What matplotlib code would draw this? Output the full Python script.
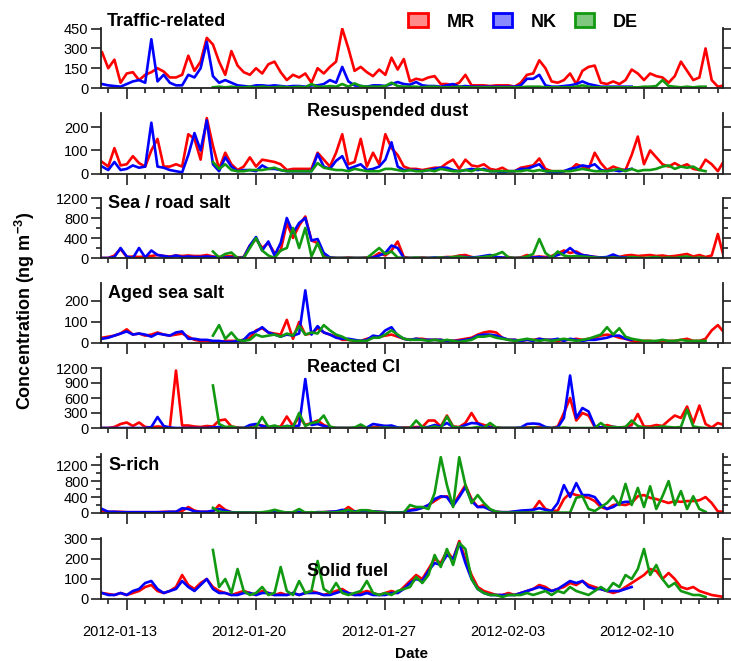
import numpy as np
import matplotlib
matplotlib.use('Agg')
import matplotlib.pyplot as plt
import matplotlib.dates as mdates
from matplotlib.patches import Patch
from matplotlib.ticker import FixedLocator, MultipleLocator
from matplotlib.transforms import ScaledTranslation

plt.rcParams['font.family'] = ['Liberation Sans', 'DejaVu Sans']
plt.rcParams['mathtext.fontset'] = 'custom'
plt.rcParams['mathtext.rm'] = 'Liberation Sans'
plt.rcParams['mathtext.bf'] = 'Liberation Sans:bold'

# ---------------- data (8-hourly samples) ----------------
start = np.datetime64('2012-01-11T16:00')
step = np.timedelta64(8, 'h')
de_offset = 18  # DE series starts 18 samples later

sites = ['MR', 'NK', 'DE']
tick_dates = ['2012-01-13', '2012-01-20', '2012-01-27', '2012-02-03', '2012-02-10']

traffic_mr = [270, 150, 215, 40, 110, 120, 60, 100, 120, 150,
              125, 80, 80, 100, 245, 130, 200, 380, 330, 200,
              100, 280, 170, 120, 100, 150, 110, 180, 200, 120,
              60, 100, 80, 110, 40, 150, 110, 160, 200, 450,
              300, 130, 160, 120, 90, 140, 100, 230, 140, 220,
              50, 70, 60, 80, 90, 30, 30, 20, 40, 100,
              20, 20, 20, 15, 20, 20, 20, 10, 40, 100,
              110, 210, 150, 50, 40, 60, 110, 30, 130, 160,
              170, 40, 30, 50, 30, 60, 140, 110, 60, 110,
              90, 80, 40, 90, 200, 130, 60, 80, 300, 60,
              10, 20]
traffic_nk = [30, 20, 15, 10, 30, 50, 60, 40, 370, 50,
              100, 40, 20, 20, 100, 80, 150, 350, 90, 40,
              60, 40, 20, 15, 10, 20, 20, 15, 20, 15,
              10, 15, 15, 10, 20, 20, 30, 60, 40, 160,
              50, 20, 15, 10, 20, 20, 15, 30, 45, 30,
              25, 45, 20, 15, 15, 10, 20, 30, 10, 15,
              10, 10, 10, 10, 10, 10, 10, 10, 20, 70,
              70, 100, 20, 10, 10, 15, 20, 30, 50, 30,
              20, 10, 10, 10, 10, 10, 10]
traffic_de = [5, 10, 5, 10, 5, 5, 10, 5, 10, 5,
              5, 10, 5, 5, 10, 5, 30, 10, 10, 15,
              10, 30, 10, 35, 15, 10, 10, 10, 15, 40,
              15, 10, 10, 10, 5, 10, 10, 5, 5, 5,
              10, 5, 5, 5, 5, 5, 5, 5, 5, 5,
              5, 10, 10, 10, 5, 5, 5, 5, 5, 10,
              20, 10, 5, 5, 5, 5, 5, 5, 5, 5,
              10, 10, 15, 60, 15, 10, 5, 10, 5, 10, 10]

dust_mr = [50, 30, 110, 35, 40, 75, 45, 30, 100, 150,
           30, 30, 40, 30, 170, 150, 60, 240, 120, 20,
           90, 40, 15, 30, 70, 30, 60, 55, 50, 40,
           15, 20, 20, 20, 20, 90, 60, 30, 90, 170,
           40, 50, 150, 30, 90, 40, 170, 110, 80, 30,
           20, 20, 15, 20, 25, 25, 45, 60, 20, 60,
           35, 30, 40, 20, 15, 25, 10, 10, 25, 30,
           35, 65, 20, 10, 10, 10, 15, 40, 30, 20,
           90, 45, 15, 30, 20, 15, 80, 160, 40, 100,
           70, 40, 30, 45, 30, 40, 20, 15, 60, 40,
           10, 55]
dust_nk = [30, 15, 50, 15, 20, 35, 25, 30, 220, 30,
           25, 15, 10, 5, 80, 175, 100, 230, 40, 10,
           70, 30, 10, 15, 15, 10, 35, 20, 20, 15,
           10, 10, 10, 10, 10, 85, 30, 20, 55, 75,
           20, 30, 40, 15, 20, 30, 60, 135, 30, 15,
           15, 15, 10, 15, 20, 25, 25, 15, 10, 15,
           20, 15, 20, 10, 10, 5, 10, 10, 20, 20,
           30, 40, 10, 5, 5, 10, 20, 25, 35, 30,
           40, 15, 10, 15, 10, 15, 20]
dust_de = [50, 20, 40, 15, 10, 10, 15, 15, 15, 20,
           25, 15, 10, 10, 10, 10, 10, 45, 25, 20,
           15, 15, 10, 20, 15, 10, 10, 10, 20, 20,
           15, 10, 15, 10, 10, 15, 10, 20, 15, 10,
           10, 15, 10, 20, 15, 10, 10, 10, 10, 10,
           10, 15, 10, 15, 10, 10, 10, 10, 10, 15,
           20, 15, 10, 10, 10, 15, 20, 10, 20, 10,
           15, 15, 20, 30, 35, 20, 30, 25, 30, 15, 10]

seasalt_mr = [0, 0, 50, 180, 20, 30, 20, 30, 40, 60,
              40, 30, 50, 40, 50, 40, 40, 60, 30, 20,
              30, 40, 10, 20, 250, 380, 200, 300, 100, 150,
              700, 400, 650, 830, 350, 300, 50, 10, 0, 0,
              10, 0, 0, 10, 20, 100, 50, 150, 330, 20,
              0, 0, 10, 0, 0, 10, 20, 20, 50, 60,
              20, 0, 20, 30, 10, 0, 20, 0, 10, 60,
              20, 30, 20, 40, 90, 150, 100, 130, 60, 40,
              20, 10, 10, 40, 20, 50, 60, 40, 50, 60,
              40, 50, 30, 40, 60, 80, 30, 60, 20, 50,
              480, 0]
seasalt_nk = [0, 0, 20, 200, 30, 0, 200, 10, 150, 60,
              40, 20, 50, 20, 30, 20, 20, 30, 20, 10,
              10, 10, 0, 10, 250, 420, 150, 330, 50, 300,
              800, 500, 700, 800, 350, 380, 100, 10, 0, 0,
              0, 0, 0, 0, 10, 50, 100, 250, 200, 0,
              0, 0, 0, 0, 10, 0, 10, 10, 20, 20,
              10, 20, 40, 60, 20, 10, 0, 0, 0, 10,
              10, 20, 0, 20, 60, 100, 200, 100, 60, 40,
              20, 10, 20, 70, 20, 10, 0]
seasalt_de = [130, 10, 80, 110, 0, 0, 200, 400, 150, 50,
              0, 150, 200, 600, 200, 600, 30, 300, 10, 0,
              0, 0, 0, 0, 0, 0, 100, 200, 80, 130,
              10, 0, 0, 10, 0, 0, 0, 10, 0, 20,
              30, 10, 0, 10, 20, 40, 70, 120, 10, 0,
              0, 30, 80, 380, 100, 10, 130, 50, 30, 40,
              30, 20, 10, 0, 0, 10, 0, 0, 20, 10,
              0, 10, 20, 0, 10, 0, 20, 30, 0, 10, 0]

aged_mr = [25, 30, 35, 45, 65, 40, 45, 35, 40, 50,
           40, 35, 40, 45, 30, 15, 10, 10, 5, 5,
           10, 10, 10, 15, 25, 60, 70, 50, 45, 40,
           110, 20, 100, 40, 45, 70, 50, 40, 30, 15,
           15, 10, 10, 20, 25, 30, 35, 40, 30, 20,
           15, 20, 20, 15, 15, 15, 10, 10, 15, 20,
           25, 40, 50, 55, 50, 25, 15, 15, 10, 15,
           15, 20, 15, 15, 10, 15, 15, 20, 15, 20,
           25, 35, 40, 35, 25, 20, 10, 5, 10, 10,
           5, 10, 10, 10, 15, 20, 10, 10, 20, 60,
           85, 50]
aged_nk = [20, 25, 35, 45, 55, 40, 45, 40, 30, 45,
           40, 35, 50, 55, 20, 20, 15, 15, 10, 10,
           5, 5, 10, 15, 45, 55, 75, 50, 40, 30,
           40, 35, 45, 250, 40, 80, 50, 40, 25, 20,
           20, 15, 10, 15, 35, 30, 60, 75, 35, 20,
           15, 20, 15, 15, 15, 15, 10, 10, 10, 15,
           20, 35, 40, 40, 35, 25, 15, 15, 10, 15,
           10, 20, 15, 15, 20, 10, 20, 15, 10, 15,
           15, 20, 25, 35, 35, 20, 15]
aged_de = [35, 85, 20, 50, 15, 10, 15, 40, 30, 35,
           40, 30, 45, 35, 80, 40, 50, 45, 85, 60,
           40, 30, 15, 10, 10, 10, 25, 25, 40, 60,
           40, 20, 15, 15, 15, 10, 15, 10, 15, 10,
           5, 10, 15, 30, 30, 35, 25, 20, 15, 10,
           15, 20, 15, 10, 15, 10, 15, 20, 15, 10,
           15, 20, 30, 40, 75, 40, 70, 30, 20, 15,
           10, 10, 10, 15, 10, 10, 15, 10, 10, 10, 10]

cl_mr = [0, 0, 20, 80, 110, 40, 110, 20, 10, 30,
         20, 10, 1150, 50, 50, 30, 20, 40, 30, 150,
         170, 30, 10, 0, 40, 70, 50, 20, 10, 30,
         230, 40, 220, 60, 100, 150, 60, 10, 0, 0,
         0, 0, 10, 0, 20, 20, 40, 20, 0, 10,
         10, 20, 20, 150, 150, 30, 250, 30, 20, 100,
         300, 100, 60, 30, 10, 0, 0, 0, 0, 10,
         10, 20, 0, 0, 30, 300, 600, 150, 300, 250,
         20, 10, 60, 20, 10, 20, 60, 280, 30, 30,
         60, 40, 150, 250, 200, 430, 100, 450, 80, 10,
         100, 60]
cl_nk = [0, 0, 0, 0, 0, 0, 0, 0, 20, 220,
         40, 10, 0, 0, 0, 0, 0, 0, 10, 20,
         10, 0, 0, 0, 60, 80, 40, 20, 0, 10,
         40, 30, 50, 980, 60, 80, 40, 10, 0, 0,
         0, 0, 0, 10, 80, 60, 40, 50, 10, 0,
         0, 0, 10, 20, 60, 30, 100, 20, 10, 60,
         100, 90, 20, 10, 0, 0, 0, 0, 10, 80,
         90, 80, 20, 0, 10, 200, 1050, 200, 400, 330,
         40, 10, 10, 20, 10, 0, 0]
cl_de = [850, 80, 20, 30, 0, 0, 0, 20, 220, 20,
         50, 10, 40, 20, 300, 40, 100, 120, 250, 30,
         0, 0, 0, 10, 70, 0, 0, 0, 10, 0,
         0, 0, 0, 150, 20, 0, 30, 0, 230, 20,
         10, 0, 0, 20, 0, 100, 10, 0, 0, 0,
         0, 0, 10, 0, 0, 0, 0, 10, 0, 0,
         0, 0, 0, 100, 10, 20, 10, 20, 150, 40,
         10, 0, 10, 30, 20, 10, 20, 370, 30, 10, 0]

srich_mr = [50, 30, 30, 30, 20, 20, 20, 20, 20, 20,
            30, 30, 30, 50, 150, 60, 30, 30, 30, 200,
            80, 20, 10, 10, 10, 10, 10, 20, 40, 20,
            10, 20, 20, 10, 10, 20, 20, 30, 30, 40,
            150, 40, 50, 60, 40, 30, 20, 10, 10, 20,
            80, 100, 130, 200, 300, 400, 420, 200, 450, 700,
            350, 150, 200, 80, 30, 20, 20, 30, 40, 50,
            80, 300, 100, 50, 60, 350, 500, 450, 420, 380,
            300, 150, 100, 200, 220, 200, 250, 420, 450, 380,
            350, 300, 250, 300, 280, 300, 300, 320, 400, 250,
            40, 30]
srich_nk = [100, 30, 30, 20, 20, 20, 20, 20, 20, 20,
            20, 30, 30, 120, 100, 40, 30, 30, 60, 100,
            60, 20, 10, 10, 10, 10, 10, 20, 50, 20,
            10, 10, 20, 10, 10, 20, 20, 30, 40, 80,
            50, 40, 50, 50, 40, 30, 20, 10, 10, 20,
            60, 80, 130, 200, 350, 420, 400, 180, 400, 650,
            300, 150, 150, 80, 30, 20, 20, 40, 60, 70,
            80, 120, 80, 50, 250, 700, 400, 750, 450, 450,
            400, 200, 100, 150, 250, 280, 280]
srich_de = [130, 30, 20, 10, 10, 10, 10, 10, 20, 40,
            80, 40, 10, 20, 100, 10, 20, 10, 20, 10,
            20, 40, 80, 20, 70, 70, 40, 20, 10, 10,
            10, 10, 200, 150, 150, 100, 500, 1400, 700, 150,
            1400, 700, 250, 450, 250, 100, 30, 10, 10, 10,
            10, 10, 10, 10, 10, 10, 10, 10, 10, 380,
            420, 100, 50, 150, 250, 420, 200, 730, 200, 630,
            150, 670, 100, 420, 800, 200, 550, 100, 420, 100, 30]

solid_mr = [30, 25, 20, 30, 20, 30, 40, 60, 70, 40,
            30, 40, 60, 120, 70, 50, 80, 100, 60, 40,
            30, 20, 30, 40, 30, 20, 40, 30, 20, 30,
            20, 30, 20, 30, 40, 30, 20, 30, 40, 50,
            30, 20, 30, 40, 30, 20, 30, 40, 30, 60,
            90, 120, 100, 150, 200, 180, 240, 200, 290, 200,
            120, 60, 40, 30, 20, 20, 30, 20, 30, 40,
            50, 70, 60, 40, 50, 60, 80, 70, 90, 70,
            60, 50, 40, 30, 40, 60, 80, 100, 120, 150,
            140, 100, 130, 100, 60, 50, 60, 40, 30, 20,
            15, 10]
solid_nk = [30, 20, 20, 30, 20, 40, 50, 80, 90, 50,
            30, 40, 50, 90, 60, 40, 70, 100, 50, 30,
            30, 20, 20, 30, 30, 20, 30, 30, 20, 20,
            20, 30, 20, 30, 30, 30, 20, 20, 30, 40,
            30, 20, 20, 30, 20, 20, 20, 30, 30, 50,
            80, 100, 90, 140, 180, 170, 220, 200, 280, 180,
            100, 50, 30, 20, 20, 20, 20, 20, 30, 40,
            50, 60, 50, 40, 50, 70, 90, 80, 90, 60,
            50, 50, 40, 40, 40, 50, 60]
solid_de = [245, 60, 100, 30, 150, 40, 20, 30, 60, 20,
            30, 160, 40, 20, 90, 30, 40, 190, 50, 30,
            80, 30, 20, 30, 40, 90, 30, 20, 30, 20,
            40, 50, 60, 110, 80, 120, 220, 160, 250, 170,
            280, 250, 100, 50, 30, 20, 20, 10, 20, 20,
            20, 30, 20, 30, 40, 20, 40, 30, 60, 40,
            30, 20, 40, 60, 40, 80, 60, 120, 100, 150,
            250, 120, 170, 100, 60, 80, 40, 30, 20, 20, 10]

titles = ['Traffic-related', 'Resuspended dust', 'Sea / road salt', 'Aged sea salt',
          'Reacted Cl', 'S-rich', 'Solid fuel']
panel_data = [
    (traffic_mr, traffic_nk, traffic_de),
    (dust_mr, dust_nk, dust_de),
    (seasalt_mr, seasalt_nk, seasalt_de),
    (aged_mr, aged_nk, aged_de),
    (cl_mr, cl_nk, cl_de),
    (srich_mr, srich_nk, srich_de),
    (solid_mr, solid_nk, solid_de),
]
ymax = [455, 262, 1200, 285, 1200, 1480, 305]
yticks = [[0, 150, 300, 450], [0, 100, 200], [0, 400, 800, 1200], [0, 100, 200],
          [0, 300, 600, 900, 1200], [0, 400, 800, 1200], [0, 100, 200, 300]]
yminor = [None, None, 200, None, None, 200, None]

# ---------------- styling / layout ----------------
line_colors = ['#ff0000', '#0000ff', '#119a11']
fill_colors = ['#ff8a8a', '#8a8aff', '#80c880']
W, H = 731, 661
left_px, right_px = 101, 723
boxes = [(28, 88), (113, 173.5), (198, 258), (283, 343), (368, 428), (454, 513), (538, 599)]
title_pos = [(107, 21), (307, 112), (108, 204), (108, 294), (307, 367), (108, 465), (307, 572)]
spine_col = '#222222'

fig = plt.figure(figsize=(W / 100, H / 100), dpi=100)
xlim = (np.datetime64('2012-01-11T14:35'), np.datetime64('2012-02-14T06:40'))
major_locs = mdates.date2num(np.array(tick_dates, dtype='datetime64[D]'))

for k, (top, bot) in enumerate(boxes):
    ax = fig.add_axes([left_px / W, 1 - bot / H, (right_px - left_px) / W, (bot - top) / H])
    mr, nk, de = panel_data[k]
    t_mr = start + step * np.arange(len(mr))
    t_nk = start + step * np.arange(len(nk))
    t_de = start + step * (de_offset + np.arange(len(de)))
    for t, v, c in zip((t_mr, t_nk, t_de), (mr, nk, de), line_colors):
        ax.plot(t, v, color=c, lw=1.9, solid_joinstyle='round')
    ax.set_xlim(*xlim)
    ax.set_ylim(0, ymax[k])
    ax.set_yticks(yticks[k])
    if yminor[k]:
        ax.yaxis.set_minor_locator(MultipleLocator(yminor[k]))
    ax.xaxis.set_major_locator(FixedLocator(major_locs))
    ax.xaxis.set_minor_locator(mdates.DayLocator())
    ax.spines['top'].set_visible(False)
    for s in ('left', 'right', 'bottom'):
        ax.spines[s].set_linewidth(1.3)
        ax.spines[s].set_color(spine_col)
    ax.tick_params(axis='y', which='major', direction='out', length=7, width=1.2,
                   right=True, labelsize=10.5, pad=2, color=spine_col)
    ax.tick_params(axis='y', which='minor', direction='out', length=3.5, width=1.2,
                   right=True, color=spine_col)
    ax.tick_params(axis='x', which='major', direction='out', length=8, width=1.2,
                   color=spine_col, labelsize=10.5, pad=11)
    ax.tick_params(axis='x', which='minor', direction='out', length=3.5, width=1.2,
                   color=spine_col)
    if k == len(boxes) - 1:
        ax.set_xticklabels(tick_dates)
        off = ScaledTranslation(-7 / 100, 0, fig.dpi_scale_trans)
        for lab in ax.get_xticklabels():
            lab.set_transform(lab.get_transform() + off)
    else:
        ax.tick_params(axis='x', labelbottom=False)
    tx, ty = title_pos[k]
    fig.text(tx / W, 1 - ty / H, titles[k], ha='left', va='center',
             fontsize=13, fontweight='bold')

handles = [Patch(facecolor=f, edgecolor=c, linewidth=2) for f, c in zip(fill_colors, line_colors)]
fig.legend(handles, sites, loc='center', bbox_to_anchor=(523 / W, 1 - 22 / H), ncol=3,
           frameon=False, prop=dict(weight='bold', size=13), handlelength=1.1,
           handleheight=0.8, handletextpad=1.0, columnspacing=1.0)

fig.text(25 / W, 1 - 311 / H, r'Concentration (ng m$^{\mathbf{-3}}$)', rotation=90,
         ha='center', va='center', fontsize=13, fontweight='bold')
fig.text(411 / W, 1 - 654 / H, 'Date', ha='center', va='center', fontsize=11, fontweight='bold')

fig.savefig('out.png', dpi=100)
